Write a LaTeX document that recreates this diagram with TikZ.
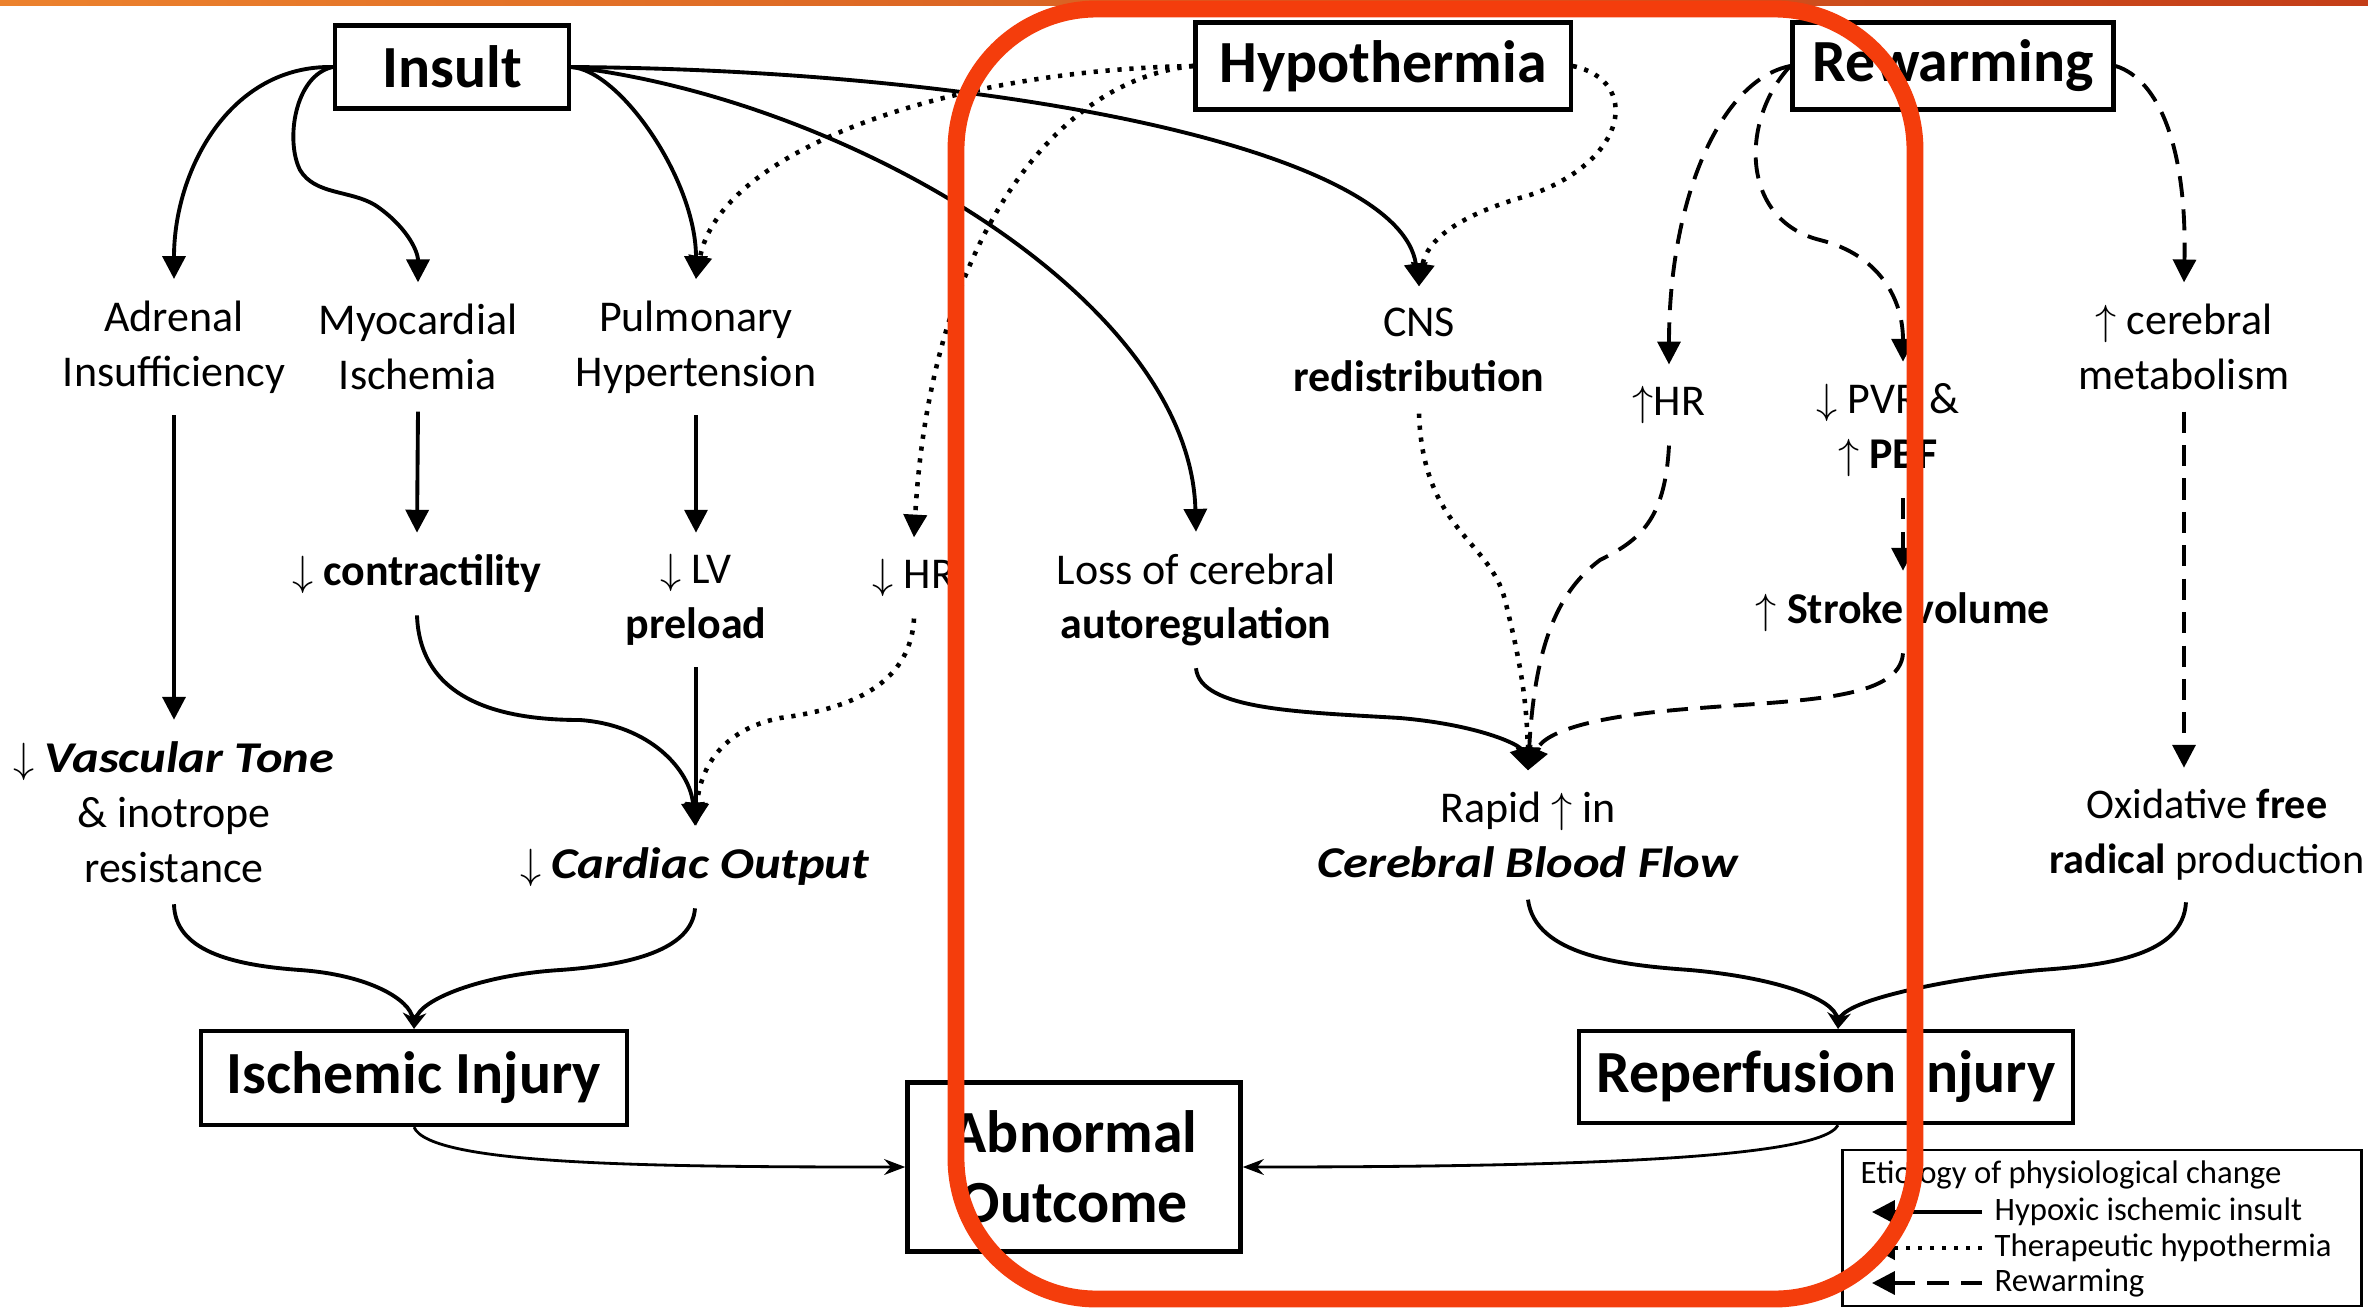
\documentclass[tikz,border=0pt]{standalone}
\usepackage{fontspec}
\setmainfont{Carlito}[BoldItalicFeatures={FakeStretch=1.15}]
\usetikzlibrary{arrows.meta}
\definecolor{hilite}{RGB}{244,61,12}
\definecolor{stripeL}{RGB}{236,130,45}
\definecolor{stripeR}{RGB}{196,62,24}
\tikzset{
  box/.style={draw, line width=1.2pt, font=\fontsize{17}{20}\selectfont\bfseries, align=center, inner sep=0pt},
  txt/.style={align=center, font=\fontsize{12.5}{15.6}\selectfont, inner xsep=1pt, inner ysep=6pt},
  lgtxt/.style={font=\fontsize{9.3}{11}\selectfont, inner sep=0pt, anchor=west},
  ins/.style={line width=1.1pt, -{Triangle[width=6.5pt,length=6.5pt]}},
  hyp/.style={line width=1.3pt, dash pattern=on 1.2pt off 2.2pt, -{Triangle[width=6.5pt,length=6.5pt]}},
  rew/.style={line width=1.1pt, dash pattern=on 6pt off 3.5pt, -{Triangle[width=6.5pt,length=6.5pt]}},
  merge/.style={line width=1.1pt, -{Stealth[width=5pt,length=5pt]}},
  toabn/.style={line width=0.8pt, -{Stealth[width=4.5pt,length=6pt]}}
}
\begin{document}
\begin{tikzpicture}[x=0.01cm, y=-0.01cm]
    \useasboundingbox (0,0) rectangle (2368,1311);
    \fill[white] (0,0) rectangle (2368,1311);
    \shade[left color=stripeL, right color=stripeR] (0,0) rectangle (2368,5);

    \node[box, minimum width=2.34cm, minimum height=0.83cm] (insult) at (452,67) {Insult};
    \node[box, minimum width=3.75cm, minimum height=0.87cm] (hypo) at (1383,66) {Hypothermia};
    \node[box, minimum width=3.21cm, minimum height=0.87cm] (rewarm) at (1953,66) {Rewarming};
        \node[txt] (adr) at (174,347) {Adrenal\\Insufficiency};
        \node[txt] (myo) at (418,347) {Myocardial\\Ischemia};
        \node[txt] (pulm) at (696,347) {Pulmonary\\Hypertension};
        \node[txt] (cns) at (1419,350) {CNS\\\textbf{redistribution}};
        \node[txt] (hr) at (1669,405) {$\uparrow$HR};
        \node[txt] (pvr) at (1888,430) {$\downarrow$ PVR \&\\$\uparrow$ \textbf{PBF}};
        \node[txt] (meta) at (2184,347) {$\uparrow$ cerebral\\metabolism};
        \node[txt] (contr) at (417,574) {$\downarrow$ \textbf{contractility}};
        \node[txt] (lv) at (696,600) {$\downarrow$ LV\\\textbf{preload}};
        \node[txt] (lowhr) at (914,578) {$\downarrow$ HR};
        \node[txt] (autoreg) at (1196,600) {Loss of cerebral\\\textbf{autoregulation}};
        \node[txt] (sv) at (1903,612) {$\uparrow$ \textbf{Stroke volume}};
        \node[txt] (tone) at (174,812) {$\downarrow$ \textbf{\textit{Vascular Tone}}\\\& inotrope\\resistance};
        \node[txt] (co) at (695,867) {$\downarrow$ \textbf{\textit{Cardiac Output}}};
        \node[txt] (cbf) at (1528,835) {Rapid $\uparrow$ in\\\textbf{\textit{Cerebral Blood Flow}}};
        \node[txt, font=\fontsize{12}{15.6}\selectfont] (ros) at (2207,835) {Oxidative \textbf{free}\\\textbf{radical} production};
    \node[box, minimum width=4.26cm, minimum height=0.94cm] (isch) at (414,1078) {Ischemic Injury};
    \node[box, minimum width=4.93cm, minimum height=0.92cm] (reperf) at (1826,1077) {Reperfusion Injury};
    \node[box, minimum width=3.33cm, minimum height=1.69cm] (abn) at (1074,1167) {Abnormal\\Outcome};

    % insult
    \draw[ins] (insult.west) .. controls (230,65) and (174,170) .. (adr.north);
    \draw[ins] (insult.west) .. controls (295,75) and (285,140) .. (300,170) .. controls (315,195) and (350,190) .. (375,205) .. controls (405,225) and (418,250) .. (myo.north);
    \draw[ins] (insult.east) .. controls (620,70) and (696,180) .. (pulm.north);
    \draw[ins] (insult.east) .. controls (850,100) and (1190,300) .. (autoreg.north);
    \draw[ins] (insult.east) .. controls (1000,70) and (1400,150) .. (cns.north);
    \draw[ins] (adr.south) -- (tone.north);
    \draw[ins] (myo.south) -- (contr.north);
    \draw[ins] (pulm.south) -- (lv.north);
    \draw[ins] (contr.south) .. controls (420,700) and (500,720) .. (580,720) .. controls (650,725) and (690,770) .. (co.north);
    \draw[ins] (lv.south) -- (lv.south |- co.north);
    \draw[ins] (autoreg.south) .. controls (1200,710) and (1300,712) .. (1400,718) .. controls (1480,725) and (1520,745) .. (cbf.north);

    % hypothermia
    \draw[hyp] (hypo.west) .. controls (950,70) and (720,150) .. (pulm.north);
    \draw[hyp] (hypo.west) .. controls (1050,80) and (930,250) .. (lowhr.north);
    \draw[hyp] (hypo.east) .. controls (1640,80) and (1630,160) .. (1530,195) .. controls (1440,220) and (1425,250) .. (cns.north);
    \draw[hyp] (cns.south) .. controls (1423,530) and (1490,540) .. (1505,600) .. controls (1520,660) and (1527,700) .. (cbf.north);
    \draw[hyp] (lowhr.south) .. controls (910,690) and (840,710) .. (780,718) .. controls (720,730) and (700,770) .. (co.north);

    % rewarming
    \draw[rew] (rewarm.west) .. controls (1720,80) and (1669,200) .. (hr.north);
    \draw[rew] (rewarm.west) .. controls (1740,120) and (1740,220) .. (1820,240) .. controls (1880,255) and (1903,300) .. (pvr.north -| sv.north);
    \draw[rew] (rewarm.east) .. controls (2160,80) and (2187,150) .. (meta.north);
    \draw[rew] (pvr.south -| sv.north) -- (sv.north);
    \draw[rew] (meta.south) -- (meta.south |- ros.north);
    \draw[rew] (hr.south) .. controls (1665,520) and (1640,540) .. (1600,560) .. controls (1560,590) and (1535,640) .. (cbf.north);
    \draw[rew] (sv.south) .. controls (1900,700) and (1800,700) .. (1700,708) .. controls (1600,715) and (1545,730) .. (cbf.north);

    % injuries
    \draw[merge] (tone.south) .. controls (175,950) and (230,965) .. (300,970) .. controls (370,975) and (410,1000) .. (isch.north);
    \draw[merge] (co.south) .. controls (692,950) and (630,965) .. (560,970) .. controls (480,975) and (420,1000) .. (isch.north);
    \draw[merge] (cbf.south) .. controls (1535,955) and (1620,965) .. (1690,970) .. controls (1780,978) and (1835,1000) .. ([xshift=0.12cm]reperf.north);
    \draw[merge] ([xshift=-0.21cm]ros.south) .. controls (2183,955) and (2110,965) .. (2040,970) .. controls (1950,978) and (1845,1000) .. ([xshift=0.12cm]reperf.north);
    \draw[toabn] (isch.south) .. controls (430,1165) and (650,1167) .. (abn.west);
    \draw[toabn] ([xshift=0.12cm]reperf.south) .. controls (1820,1160) and (1550,1167) .. (abn.east);

    % legend
    \node[draw, line width=0.8pt, minimum width=5.19cm, minimum height=1.56cm] (legend) at (2102,1228) {};
        \node[lgtxt] (lgtitle) at (1860,1175) {Etiology of physiological change};
        \node[lgtxt] (lgins) at (1994,1212) {Hypoxic ischemic insult};
        \node[lgtxt] (lghyp) at (1994,1248) {Therapeutic hypothermia};
        \node[lgtxt] (lgrew) at (1994,1283) {Rewarming};
        \draw[ins] ([xshift=-0.12cm]lgins.west) -- ++(-110,0);
        \draw[hyp] ([xshift=-0.12cm]lghyp.west) -- ++(-110,0);
        \draw[rew] ([xshift=-0.12cm]lgrew.west) -- ++(-110,0);

    \draw[hilite, line width=4.8pt, rounded corners=40pt] (956,9) rectangle (1915,1299);
\end{tikzpicture}
\end{document}
